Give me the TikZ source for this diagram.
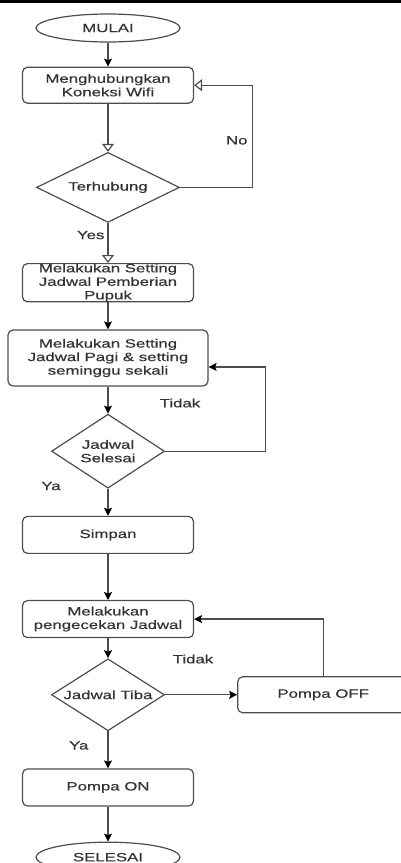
\documentclass[tikz,border=0pt]{standalone}
\usepackage{fontspec}
\setmainfont[FakeStretch=1.4, RawFeature={embolden=0.6}]{Liberation Sans}
\usetikzlibrary{positioning, arrows.meta, shapes.geometric}
\definecolor{garis}{HTML}{4D4D4D}
\definecolor{tulisan}{HTML}{333333}

\begin{document}
\begin{tikzpicture}[
        x=1pt, y=1pt,
        every node/.style={text=tulisan, font=\fontsize{12}{13.5}\selectfont},
        terminal/.style={draw=garis, line width=1.2pt, ellipse, minimum width=144pt, minimum height=28pt, inner sep=0pt},
        proses/.style={draw=garis, line width=1.2pt, rounded corners=5pt, minimum width=171pt, minimum height=37pt, align=center, inner sep=0pt},
        keputusan/.style={draw=garis, line width=1.2pt, diamond, aspect=1.6, align=center, inner sep=0pt},
        panah/.style={draw=garis, line width=1.2pt, -{Stealth[length=8pt, width=8pt, inset=1.5pt, color=black]}},
        panahbuka/.style={draw=garis, line width=1.2pt, -{Triangle[open, length=8pt, width=12pt]}},
        teks/.style={inner sep=0pt}
    ]
    \useasboundingbox (0,0) rectangle (401,-863);
    \draw[line width=3pt, black] (0,-1.5) -- (401,-1.5);

    % Mulai dan koneksi wifi
    \node[terminal] (mulai) at (108,-28) {MULAI};
    \node[proses, below=24pt of mulai, minimum height=36pt] (koneksi) {Menghubungkan\\Koneksi Wifi};
    \node[keputusan, below=48pt of koneksi, minimum width=143pt, minimum height=70pt, aspect=2] (terhubung) {Terhubung};

    % Setting jadwal
    \node[proses, below=40pt of terhubung] (jadwal) {Melakukan Setting\\Jadwal Pemberian\\Pupuk};
    \node[proses, below=27pt of jadwal, minimum width=200pt, minimum height=56pt] (pagi) {Melakukan Setting\\Jadwal Pagi \& setting\\seminggu sekali};
    \node[keputusan, below=27pt of pagi, minimum width=113pt, minimum height=74pt] (selesai) {Jadwal\\Selesai};
    \node[proses, below=27pt of selesai] (simpan) {Simpan};

    % Pengecekan jadwal
    \node[proses, below=46pt of simpan] (cek) {Melakukan\\pengecekan Jadwal};
    \node[keputusan, below=20pt of cek, minimum width=113pt, minimum height=72pt] (tiba) {Jadwal Tiba};
    \node[proses, right=72pt of tiba, minimum height=36pt] (off) {Pompa OFF};
    \node[proses, below=37pt of tiba] (on) {Pompa ON};
    \node[terminal, below=35pt of on, minimum height=30pt] (akhir) {SELESAI};

    % Label
    \node[teks] (tidak1) at (180,-403) {Tidak};
    \node[teks] (ya1) at (51,-486) {Ya};
    \node[teks] (tidak2) at (193,-659) {Tidak};

    % Panah
    \draw[panah] (mulai) -- (koneksi);
    \draw[panahbuka] (koneksi) -- (terhubung);
    \draw[panahbuka] (terhubung) -- node[teks, pos=0.3, left=3pt] {Yes} (jadwal);
    \draw[panahbuka] (terhubung.east) -- ++(72,0) |- node[teks, pos=0.23, left=4pt] {No} (koneksi.east);
    \draw[panah] (jadwal) -- (pagi);
    \draw[panah] (pagi) -- (selesai);
    \draw[panah] (selesai.east) -- ++(100,0) |- ([yshift=-9pt]pagi.east);
    \draw[panah] (selesai) -- (simpan);
    \draw[panah] (simpan) -- (cek);
    \draw[panah] (cek) -- (tiba);
    \draw[panah] (tiba) -- (off);
    \draw[panah] (off.north) |- (cek.east);
    \draw[panah] (tiba) -- node[teks, pos=0.38, left=19pt] {Ya} (on);
    \draw[panah] (on) -- (akhir);
\end{tikzpicture}
\end{document}
